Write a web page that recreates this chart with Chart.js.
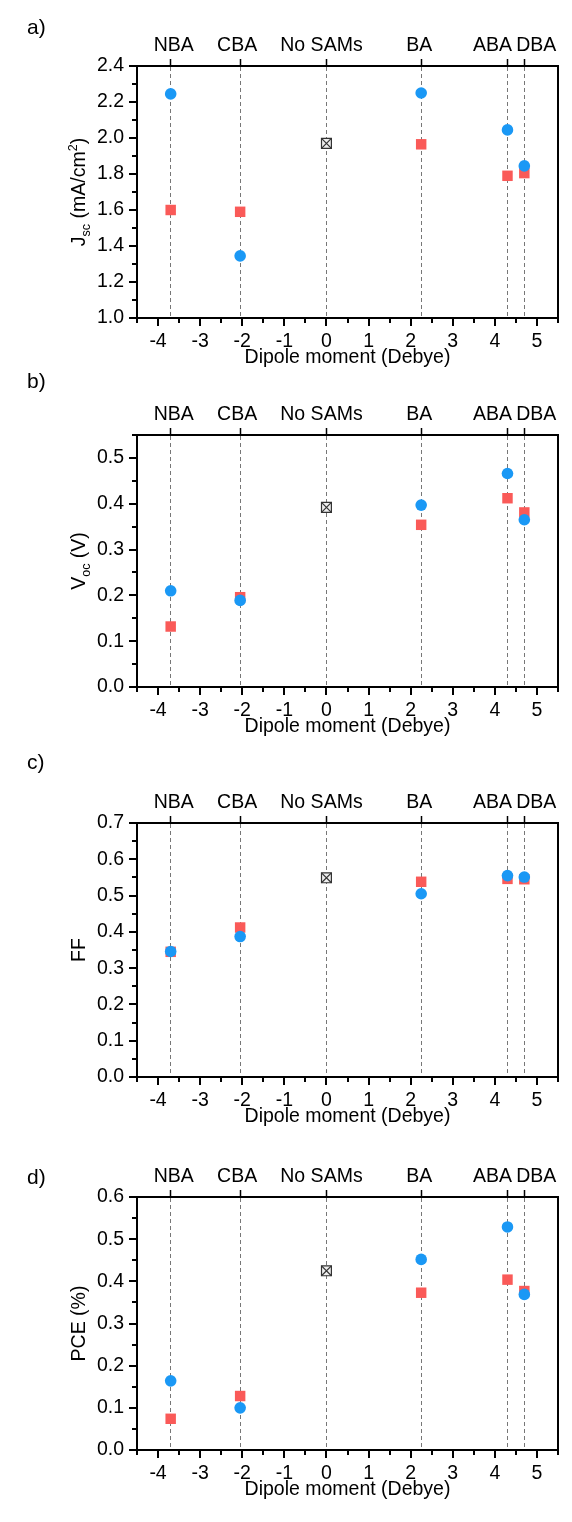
<!DOCTYPE html>
<html>
<head>
<meta charset="utf-8">
<title>Dipole moment vs device parameters</title>
<script src="https://cdn.jsdelivr.net/npm/chart.js@4.4.0/dist/chart.umd.min.js"></script>
<style>
  html, body { margin: 0; padding: 0; background: #fff; }
  body { position: relative; width: 572px; height: 1522px; overflow: hidden; }
  canvas { position: absolute; left: 0; }
</style>
</head>
<body>
<canvas id="panelA"></canvas>
<canvas id="panelB"></canvas>
<canvas id="panelC"></canvas>
<canvas id="panelD"></canvas>
<script>
// samples and their dipole moment (Debye)
const samLabels = ['NBA', 'CBA', 'No SAMs', 'BA', 'ABA', 'DBA'];
const dipole = [-3.7, -2.05, 0, 2.25, 4.3, 4.7];
const xTicks = [-4, -3, -2, -1, 0, 1, 2, 3, 4, 5];

// a) Jsc (mA/cm2)
const jscBlue = [2.245, 1.345, null, 2.25, 2.045, 1.845];
const jscRed = [1.60, 1.59, null, 1.965, 1.79, 1.805];
const jscRef = [null, null, 1.97, null, null, null];
const jscTicks = [1.0, 1.2, 1.4, 1.6, 1.8, 2.0, 2.2, 2.4];

// b) Voc (V)
const vocBlue = [0.210, 0.189, null, 0.397, 0.466, 0.365];
const vocRed = [0.132, 0.196, null, 0.354, 0.412, 0.381];
const vocRef = [null, null, 0.392, null, null, null];
const vocTicks = [0.0, 0.1, 0.2, 0.3, 0.4, 0.5];

// c) FF
const ffBlue = [0.346, 0.387, null, 0.505, 0.555, 0.551];
const ffRed = [0.345, 0.412, null, 0.538, 0.546, 0.545];
const ffRef = [null, null, 0.549, null, null, null];
const ffTicks = [0.0, 0.1, 0.2, 0.3, 0.4, 0.5, 0.6, 0.7];

// d) PCE (%)
const pceBlue = [0.164, 0.100, null, 0.452, 0.529, 0.369];
const pceRed = [0.074, 0.128, null, 0.373, 0.404, 0.377];
const pceRef = [null, null, 0.425, null, null, null];
const pceTicks = [0.0, 0.1, 0.2, 0.3, 0.4, 0.5, 0.6];

// label nudges (px) so ABA / DBA don't collide
const labelShift = [3, -3, -5, -2, -15, 12];

const FONT = "'Liberation Sans', Arial, Helvetica, sans-serif";
const FS = 19.5;
const BLUE = 'rgb(26,152,245)';
const RED = 'rgb(250,90,88)';

Chart.defaults.font.family = FONT;
Chart.defaults.font.size = FS;
Chart.defaults.color = '#000';

// page layout of the four panels (absolute px)
const panels = [
  { id: 'panelA', top: 0, height: 378, frameTop: 66, frameBottom: 318, letter: 'a)', letterY: 28,
    title: [['J', 0], ['sc', 1], [' (mA/cm', 0], ['2', 2], [')', 0]],
    ticks: jscTicks, min: 1.0, max: 2.4, blue: jscBlue, red: jscRed, ref: jscRef },
  { id: 'panelB', top: 362, height: 380, frameTop: 435, frameBottom: 687, letter: 'b)', letterY: 382,
    title: [['V', 0], ['oc', 1], [' (V)', 0]],
    ticks: vocTicks, min: 0, max: 0.55, blue: vocBlue, red: vocRed, ref: vocRef },
  { id: 'panelC', top: 745, height: 385, frameTop: 823, frameBottom: 1077, letter: 'c)', letterY: 763,
    title: [['FF', 0]],
    ticks: ffTicks, min: 0, max: 0.7, blue: ffBlue, red: ffRed, ref: ffRef },
  { id: 'panelD', top: 1132, height: 390, frameTop: 1197, frameBottom: 1450, letter: 'd)', letterY: 1178,
    title: [['PCE (%)', 0]],
    ticks: pceTicks, min: 0, max: 0.6, blue: pceBlue, red: pceRed, ref: pceRef },
];

function pts(arr) {
  return dipole.map((d, i) => ({ x: d, y: arr[i] })).filter(q => q.y !== null);
}

function minorsOf(ticks, min, max) {
  const out = [];
  const step = ticks[1] - ticks[0];
  const eps = step * 1e-6;
  if (ticks[0] - step / 2 >= min - eps) out.push(ticks[0] - step / 2);
  for (let i = 0; i < ticks.length - 1; i++) out.push((ticks[i] + ticks[i + 1]) / 2);
  const last = ticks[ticks.length - 1];
  if (last + step / 2 <= max + eps) out.push(last + step / 2);
  return out;
}

// rotated axis title with sub/superscripts
function drawRich(ctx, parts, cx, cy) {
  const small = 12.5;
  ctx.save();
  ctx.translate(cx, cy);
  ctx.rotate(-Math.PI / 2);
  ctx.textBaseline = 'alphabetic';
  ctx.textAlign = 'left';
  let w = 0;
  parts.forEach(([t, k]) => {
    ctx.font = `${k ? small : FS}px ${FONT}`;
    w += ctx.measureText(t).width;
  });
  let xx = -w / 2;
  const base = FS * 0.36;
  parts.forEach(([t, k]) => {
    ctx.font = `${k ? small : FS}px ${FONT}`;
    const dy = k === 1 ? 5 : (k === 2 ? -8 : 0);
    ctx.fillText(t, xx, base + dy);
    xx += ctx.measureText(t).width;
  });
  ctx.restore();
}

function decor(p) {
  return {
    id: 'decor',
    afterDraw(chart) {
      const ctx = chart.ctx;
      const area = chart.chartArea;
      const { x, y, x2 } = chart.scales;
      ctx.save();
      // minor ticks
      ctx.strokeStyle = '#000';
      ctx.lineWidth = 2;
      ctx.beginPath();
      minorsOf(xTicks, x.min, x.max).forEach(v => {
        const px = Math.round(x.getPixelForValue(v));
        ctx.moveTo(px, area.bottom);
        ctx.lineTo(px, area.bottom + 5);
      });
      minorsOf(p.ticks, y.min, y.max).forEach(v => {
        const py = Math.round(y.getPixelForValue(v));
        ctx.moveTo(area.left, py);
        ctx.lineTo(area.left - 5, py);
      });
      ctx.stroke();

      // sample names above the frame
      ctx.fillStyle = '#000';
      ctx.font = `${FS}px ${FONT}`;
      ctx.textAlign = 'center';
      ctx.textBaseline = 'middle';
      samLabels.forEach((s, i) => {
        ctx.fillText(s, x2.getPixelForValue(dipole[i]) + labelShift[i], area.top - 20);
      });

      // x axis title
      ctx.fillText('Dipole moment (Debye)', (area.left + area.right) / 2, area.bottom + 40);

      // panel letter
      ctx.textAlign = 'left';
      ctx.font = `21px ${FONT}`;
      ctx.fillText(p.letter, 27, p.letterY - p.top);

      // y axis title
      drawRich(ctx, p.title, 78, (area.top + area.bottom) / 2);
      ctx.restore();
    }
  };
}

function makeChart(p) {
  const canvas = document.getElementById(p.id);
  canvas.width = 572;
  canvas.height = p.height;
  canvas.style.top = p.top + 'px';
  canvas.style.width = '572px';
  canvas.style.height = p.height + 'px';

  return new Chart(canvas.getContext('2d'), {
    type: 'scatter',
    data: {
      datasets: [
        { label: 'No SAMs cross', data: pts(p.ref), pointStyle: 'crossRot', pointRadius: 7,
          borderColor: '#333', borderWidth: 1.2, order: 0 },
        { label: 'No SAMs', data: pts(p.ref), pointStyle: 'rect', pointRadius: 7,
          backgroundColor: '#eeeeee', borderColor: '#333', borderWidth: 1.2, order: 1 },
        { label: 'blue', data: pts(p.blue), pointStyle: 'circle', pointRadius: 5.8,
          backgroundColor: BLUE, borderWidth: 0, order: 2 },
        { label: 'red', data: pts(p.red), pointStyle: 'rect', pointRadius: 7.4,
          backgroundColor: RED, borderWidth: 0, order: 3 },
      ]
    },
    options: {
      responsive: false,
      animation: false,
      devicePixelRatio: 1,
      events: [],
      layout: { padding: 0 },
      plugins: { legend: { display: false }, tooltip: { enabled: false } },
      scales: {
        x: {
          type: 'linear', position: 'bottom', min: -4.5, max: 5.5,
          afterBuildTicks: s => { s.ticks = xTicks.map(v => ({ value: v })); },
          ticks: { padding: 4, maxRotation: 0, autoSkip: false, color: '#000' },
          grid: { drawOnChartArea: false, tickLength: 8, lineWidth: 2, color: '#000' },
          border: { width: 2, color: '#000' },
          afterFit: s => { s.height = p.top + p.height - p.frameBottom; }
        },
        x2: {
          type: 'linear', position: 'top', min: -4.5, max: 5.5,
          afterBuildTicks: s => { s.ticks = dipole.map(v => ({ value: v })); },
          ticks: { display: false },
          grid: { drawOnChartArea: true, color: '#777777', lineWidth: 1, tickLength: 7,
                  tickColor: '#000', tickWidth: 1.5, tickBorderDash: [] },
          border: { width: 2, color: '#000', dash: [4, 3] },
          afterFit: s => { s.height = p.frameTop - p.top; }
        },
        y: {
          type: 'linear', position: 'left', min: p.min, max: p.max,
          afterBuildTicks: s => { s.ticks = p.ticks.map(v => ({ value: v })); },
          ticks: { padding: 5, color: '#000', callback: v => v.toFixed(1) },
          grid: { drawOnChartArea: false, tickLength: 8, lineWidth: 2, color: '#000' },
          border: { width: 2, color: '#000' },
          afterFit: s => { s.width = 137; }
        },
        y2: {
          type: 'linear', position: 'right', min: p.min, max: p.max,
          ticks: { display: false },
          grid: { display: false, drawTicks: false },
          border: { width: 2, color: '#000' },
          afterFit: s => { s.width = 14; }
        }
      }
    },
    plugins: [decor(p)]
  });
}

panels.forEach(makeChart);
</script>
</body>
</html>
